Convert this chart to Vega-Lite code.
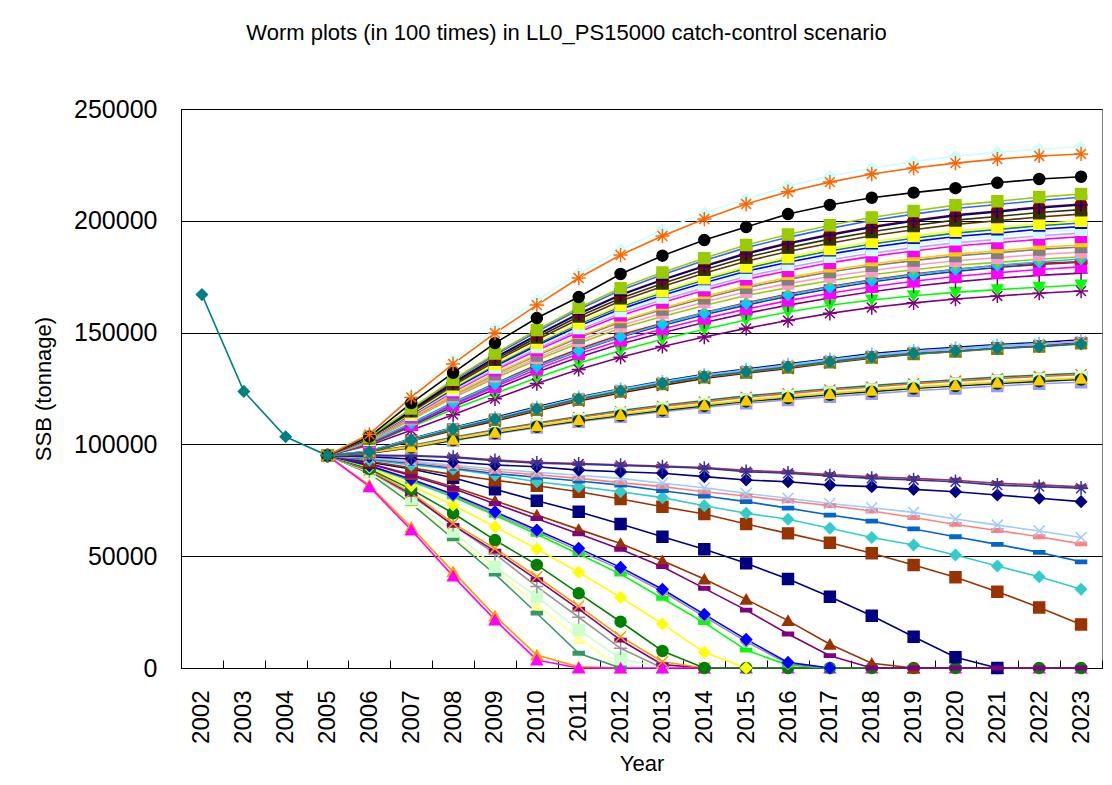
{
"$schema":"https://vega.github.io/schema/vega-lite/v6.json",
"width":921,"height":559,
"autosize":{"type":"none"},
"padding":{"left":181,"top":109,"right":10,"bottom":117},
"background":"white",
"title":{"text":"Worm plots (in 100 times) in LL0_PS15000 catch-control scenario","fontSize":22,"font":"Liberation Sans","fontWeight":"normal","color":"black","offset":52,"dx":-75},
"config":{"view":{"stroke":"#808080","strokeWidth":1}},
"data":{"values":[
{"s":"s02","t":2005,"v":95000},{"s":"s02","t":2006,"v":81800},{"s":"s02","t":2007,"v":62900},{"s":"s02","t":2008,"v":43100},{"s":"s02","t":2009,"v":23300},{"s":"s02","t":2010,"v":5800},{"s":"s02","t":2011,"v":500},{"s":"s02","t":2012,"v":0},
{"s":"s03","t":2005,"v":95000},{"s":"s03","t":2006,"v":87300},{"s":"s03","t":2007,"v":74000},{"s":"s03","t":2008,"v":58700},{"s":"s03","t":2009,"v":43800},{"s":"s03","t":2010,"v":28200},{"s":"s03","t":2011,"v":13300},{"s":"s03","t":2012,"v":0},
{"s":"s04","t":2005,"v":95000},{"s":"s04","t":2006,"v":87000},{"s":"s04","t":2007,"v":73500},{"s":"s04","t":2008,"v":57800},{"s":"s04","t":2009,"v":42000},{"s":"s04","t":2010,"v":24500},{"s":"s04","t":2011,"v":6600},{"s":"s04","t":2012,"v":0},
{"s":"s05","t":2005,"v":95000},{"s":"s05","t":2006,"v":87500},{"s":"s05","t":2007,"v":75500},{"s":"s05","t":2008,"v":61000},{"s":"s05","t":2009,"v":45300},{"s":"s05","t":2010,"v":31900},{"s":"s05","t":2011,"v":17000},{"s":"s05","t":2012,"v":4300},{"s":"s05","t":2013,"v":0},
{"s":"s06","t":2005,"v":95000},{"s":"s06","t":2006,"v":88000},{"s":"s06","t":2007,"v":77000},{"s":"s06","t":2008,"v":64000},{"s":"s06","t":2009,"v":51000},{"s":"s06","t":2010,"v":36400},{"s":"s06","t":2011,"v":22700},{"s":"s06","t":2012,"v":8800},{"s":"s06","t":2013,"v":0},
{"s":"s07","t":2005,"v":95000},{"s":"s07","t":2006,"v":88300},{"s":"s07","t":2007,"v":77800},{"s":"s07","t":2008,"v":63800},{"s":"s07","t":2009,"v":52300},{"s":"s07","t":2010,"v":39500},{"s":"s07","t":2011,"v":26300},{"s":"s07","t":2012,"v":12500},{"s":"s07","t":2013,"v":1500},{"s":"s07","t":2014,"v":0},
{"s":"s08","t":2005,"v":95000},{"s":"s08","t":2006,"v":88500},{"s":"s08","t":2007,"v":78500},{"s":"s08","t":2008,"v":64700},{"s":"s08","t":2009,"v":53500},{"s":"s08","t":2010,"v":40800},{"s":"s08","t":2011,"v":27700},{"s":"s08","t":2012,"v":14000},{"s":"s08","t":2013,"v":2800},{"s":"s08","t":2014,"v":0},
{"s":"s085","t":2005,"v":95000},{"s":"s085","t":2006,"v":81100},{"s":"s085","t":2007,"v":61700},{"s":"s085","t":2008,"v":41100},{"s":"s085","t":2009,"v":21500},{"s":"s085","t":2010,"v":3600},{"s":"s085","t":2011,"v":0},{"s":"s085","t":2012,"v":0},{"s":"s085","t":2013,"v":0},{"s":"s085","t":2014,"v":0},{"s":"s085","t":2015,"v":0},{"s":"s085","t":2016,"v":0},{"s":"s085","t":2017,"v":0},{"s":"s085","t":2018,"v":0},{"s":"s085","t":2019,"v":0},{"s":"s085","t":2020,"v":0},{"s":"s085","t":2021,"v":0},{"s":"s085","t":2022,"v":0},{"s":"s085","t":2023,"v":0},
{"s":"s09","t":2005,"v":95000},{"s":"s09","t":2006,"v":89000},{"s":"s09","t":2007,"v":79900},{"s":"s09","t":2008,"v":69200},{"s":"s09","t":2009,"v":57200},{"s":"s09","t":2010,"v":46100},{"s":"s09","t":2011,"v":33400},{"s":"s09","t":2012,"v":20700},{"s":"s09","t":2013,"v":7600},{"s":"s09","t":2014,"v":0},{"s":"s09","t":2015,"v":0},{"s":"s09","t":2016,"v":0},{"s":"s09","t":2017,"v":0},{"s":"s09","t":2018,"v":0},{"s":"s09","t":2019,"v":0},{"s":"s09","t":2020,"v":0},{"s":"s09","t":2021,"v":0},{"s":"s09","t":2022,"v":0},{"s":"s09","t":2023,"v":0},
{"s":"s10","t":2005,"v":95000},{"s":"s10","t":2006,"v":89800},{"s":"s10","t":2007,"v":81500},{"s":"s10","t":2008,"v":72900},{"s":"s10","t":2009,"v":63200},{"s":"s10","t":2010,"v":53200},{"s":"s10","t":2011,"v":42800},{"s":"s10","t":2012,"v":31600},{"s":"s10","t":2013,"v":19700},{"s":"s10","t":2014,"v":7000},{"s":"s10","t":2015,"v":0},
{"s":"s11","t":2005,"v":95000},{"s":"s11","t":2006,"v":90200},{"s":"s11","t":2007,"v":83500},{"s":"s11","t":2008,"v":76500},{"s":"s11","t":2009,"v":68300},{"s":"s11","t":2010,"v":59800},{"s":"s11","t":2011,"v":51000},{"s":"s11","t":2012,"v":42000},{"s":"s11","t":2013,"v":31200},{"s":"s11","t":2014,"v":20300},{"s":"s11","t":2015,"v":8000},{"s":"s11","t":2016,"v":1300},{"s":"s11","t":2017,"v":0},
{"s":"s12","t":2005,"v":95000},{"s":"s12","t":2006,"v":90300},{"s":"s12","t":2007,"v":84000},{"s":"s12","t":2008,"v":77000},{"s":"s12","t":2009,"v":69000},{"s":"s12","t":2010,"v":60800},{"s":"s12","t":2011,"v":52500},{"s":"s12","t":2012,"v":44000},{"s":"s12","t":2013,"v":34200},{"s":"s12","t":2014,"v":23000},{"s":"s12","t":2015,"v":11800},{"s":"s12","t":2016,"v":1800},{"s":"s12","t":2017,"v":0},
{"s":"s13","t":2005,"v":95000},{"s":"s13","t":2006,"v":90500},{"s":"s13","t":2007,"v":84400},{"s":"s13","t":2008,"v":77700},{"s":"s13","t":2009,"v":69900},{"s":"s13","t":2010,"v":61700},{"s":"s13","t":2011,"v":53500},{"s":"s13","t":2012,"v":45000},{"s":"s13","t":2013,"v":35200},{"s":"s13","t":2014,"v":24000},{"s":"s13","t":2015,"v":12800},{"s":"s13","t":2016,"v":2500},{"s":"s13","t":2017,"v":0},
{"s":"s14","t":2005,"v":95000},{"s":"s14","t":2006,"v":91500},{"s":"s14","t":2007,"v":86500},{"s":"s14","t":2008,"v":81100},{"s":"s14","t":2009,"v":74800},{"s":"s14","t":2010,"v":68400},{"s":"s14","t":2011,"v":62000},{"s":"s14","t":2012,"v":55700},{"s":"s14","t":2013,"v":48000},{"s":"s14","t":2014,"v":39800},{"s":"s14","t":2015,"v":30700},{"s":"s14","t":2016,"v":21200},{"s":"s14","t":2017,"v":10600},{"s":"s14","t":2018,"v":2100},{"s":"s14","t":2019,"v":0},
{"s":"s15","t":2005,"v":95000},{"s":"s15","t":2006,"v":92000},{"s":"s15","t":2007,"v":89000},{"s":"s15","t":2008,"v":85100},{"s":"s15","t":2009,"v":79900},{"s":"s15","t":2010,"v":74800},{"s":"s15","t":2011,"v":69900},{"s":"s15","t":2012,"v":64400},{"s":"s15","t":2013,"v":58700},{"s":"s15","t":2014,"v":53100},{"s":"s15","t":2015,"v":46800},{"s":"s15","t":2016,"v":39800},{"s":"s15","t":2017,"v":31900},{"s":"s15","t":2018,"v":23400},{"s":"s15","t":2019,"v":14000},{"s":"s15","t":2020,"v":4800},{"s":"s15","t":2021,"v":0},
{"s":"s16","t":2005,"v":95000},{"s":"s16","t":2006,"v":91300},{"s":"s16","t":2007,"v":86000},{"s":"s16","t":2008,"v":80300},{"s":"s16","t":2009,"v":73500},{"s":"s16","t":2010,"v":66800},{"s":"s16","t":2011,"v":60000},{"s":"s16","t":2012,"v":53100},{"s":"s16","t":2013,"v":45300},{"s":"s16","t":2014,"v":35600},{"s":"s16","t":2015,"v":25900},{"s":"s16","t":2016,"v":15200},{"s":"s16","t":2017,"v":5500},{"s":"s16","t":2018,"v":0},{"s":"s16","t":2019,"v":0},{"s":"s16","t":2020,"v":0},{"s":"s16","t":2021,"v":0},{"s":"s16","t":2022,"v":0},{"s":"s16","t":2023,"v":0},
{"s":"s17","t":2005,"v":95000},{"s":"s17","t":2006,"v":92500},{"s":"s17","t":2007,"v":89500},{"s":"s17","t":2008,"v":86500},{"s":"s17","t":2009,"v":84000},{"s":"s17","t":2010,"v":81500},{"s":"s17","t":2011,"v":78800},{"s":"s17","t":2012,"v":75600},{"s":"s17","t":2013,"v":72100},{"s":"s17","t":2014,"v":68900},{"s":"s17","t":2015,"v":64400},{"s":"s17","t":2016,"v":60200},{"s":"s17","t":2017,"v":56000},{"s":"s17","t":2018,"v":51300},{"s":"s17","t":2019,"v":46100},{"s":"s17","t":2020,"v":40600},{"s":"s17","t":2021,"v":34100},{"s":"s17","t":2022,"v":27100},{"s":"s17","t":2023,"v":19500},
{"s":"s18","t":2005,"v":95000},{"s":"s18","t":2006,"v":93000},{"s":"s18","t":2007,"v":90800},{"s":"s18","t":2008,"v":89000},{"s":"s18","t":2009,"v":86300},{"s":"s18","t":2010,"v":83300},{"s":"s18","t":2011,"v":81100},{"s":"s18","t":2012,"v":78800},{"s":"s18","t":2013,"v":76200},{"s":"s18","t":2014,"v":72600},{"s":"s18","t":2015,"v":69200},{"s":"s18","t":2016,"v":66500},{"s":"s18","t":2017,"v":62500},{"s":"s18","t":2018,"v":58400},{"s":"s18","t":2019,"v":55000},{"s":"s18","t":2020,"v":50500},{"s":"s18","t":2021,"v":45600},{"s":"s18","t":2022,"v":40800},{"s":"s18","t":2023,"v":35200},
{"s":"s19","t":2005,"v":95000},{"s":"s19","t":2006,"v":93500},{"s":"s19","t":2007,"v":91500},{"s":"s19","t":2008,"v":89300},{"s":"s19","t":2009,"v":87000},{"s":"s19","t":2010,"v":85300},{"s":"s19","t":2011,"v":83600},{"s":"s19","t":2012,"v":81800},{"s":"s19","t":2013,"v":79300},{"s":"s19","t":2014,"v":76900},{"s":"s19","t":2015,"v":74400},{"s":"s19","t":2016,"v":71500},{"s":"s19","t":2017,"v":68400},{"s":"s19","t":2018,"v":65700},{"s":"s19","t":2019,"v":62200},{"s":"s19","t":2020,"v":58700},{"s":"s19","t":2021,"v":55300},{"s":"s19","t":2022,"v":51700},{"s":"s19","t":2023,"v":47500},
{"s":"s20","t":2005,"v":95000},{"s":"s20","t":2006,"v":93800},{"s":"s20","t":2007,"v":92000},{"s":"s20","t":2008,"v":90000},{"s":"s20","t":2009,"v":88000},{"s":"s20","t":2010,"v":86400},{"s":"s20","t":2011,"v":84800},{"s":"s20","t":2012,"v":82900},{"s":"s20","t":2013,"v":81100},{"s":"s20","t":2014,"v":78800},{"s":"s20","t":2015,"v":76900},{"s":"s20","t":2016,"v":74700},{"s":"s20","t":2017,"v":72600},{"s":"s20","t":2018,"v":70200},{"s":"s20","t":2019,"v":67300},{"s":"s20","t":2020,"v":64200},{"s":"s20","t":2021,"v":61500},{"s":"s20","t":2022,"v":58700},{"s":"s20","t":2023,"v":55500},
{"s":"s21","t":2005,"v":95000},{"s":"s21","t":2006,"v":94000},{"s":"s21","t":2007,"v":92500},{"s":"s21","t":2008,"v":90700},{"s":"s21","t":2009,"v":89000},{"s":"s21","t":2010,"v":87500},{"s":"s21","t":2011,"v":86200},{"s":"s21","t":2012,"v":84800},{"s":"s21","t":2013,"v":82600},{"s":"s21","t":2014,"v":80600},{"s":"s21","t":2015,"v":78100},{"s":"s21","t":2016,"v":75900},{"s":"s21","t":2017,"v":73600},{"s":"s21","t":2018,"v":71700},{"s":"s21","t":2019,"v":69600},{"s":"s21","t":2020,"v":66600},{"s":"s21","t":2021,"v":63900},{"s":"s21","t":2022,"v":61300},{"s":"s21","t":2023,"v":58400},
{"s":"s22","t":2005,"v":95000},{"s":"s22","t":2006,"v":95200},{"s":"s22","t":2007,"v":95000},{"s":"s22","t":2008,"v":94500},{"s":"s22","t":2009,"v":93100},{"s":"s22","t":2010,"v":92000},{"s":"s22","t":2011,"v":91400},{"s":"s22","t":2012,"v":90900},{"s":"s22","t":2013,"v":90300},{"s":"s22","t":2014,"v":89600},{"s":"s22","t":2015,"v":88400},{"s":"s22","t":2016,"v":87600},{"s":"s22","t":2017,"v":86500},{"s":"s22","t":2018,"v":85500},{"s":"s22","t":2019,"v":84800},{"s":"s22","t":2020,"v":84000},{"s":"s22","t":2021,"v":82600},{"s":"s22","t":2022,"v":81900},{"s":"s22","t":2023,"v":81000},
{"s":"s23","t":2005,"v":95000},{"s":"s23","t":2006,"v":94500},{"s":"s23","t":2007,"v":93500},{"s":"s23","t":2008,"v":92200},{"s":"s23","t":2009,"v":90800},{"s":"s23","t":2010,"v":90000},{"s":"s23","t":2011,"v":88500},{"s":"s23","t":2012,"v":87800},{"s":"s23","t":2013,"v":87100},{"s":"s23","t":2014,"v":85600},{"s":"s23","t":2015,"v":84100},{"s":"s23","t":2016,"v":83300},{"s":"s23","t":2017,"v":81800},{"s":"s23","t":2018,"v":81100},{"s":"s23","t":2019,"v":79900},{"s":"s23","t":2020,"v":78800},{"s":"s23","t":2021,"v":77400},{"s":"s23","t":2022,"v":75900},{"s":"s23","t":2023,"v":74400},
{"s":"s24","t":2005,"v":95000},{"s":"s24","t":2006,"v":95000},{"s":"s24","t":2007,"v":94800},{"s":"s24","t":2008,"v":94200},{"s":"s24","t":2009,"v":92700},{"s":"s24","t":2010,"v":91600},{"s":"s24","t":2011,"v":91200},{"s":"s24","t":2012,"v":90600},{"s":"s24","t":2013,"v":90000},{"s":"s24","t":2014,"v":89300},{"s":"s24","t":2015,"v":87800},{"s":"s24","t":2016,"v":87100},{"s":"s24","t":2017,"v":85900},{"s":"s24","t":2018,"v":84800},{"s":"s24","t":2019,"v":84100},{"s":"s24","t":2020,"v":83300},{"s":"s24","t":2021,"v":81800},{"s":"s24","t":2022,"v":81100},{"s":"s24","t":2023,"v":80400},
{"s":"s25","t":2005,"v":95000},{"s":"s25","t":2006,"v":96600},{"s":"s25","t":2007,"v":99500},{"s":"s25","t":2008,"v":103200},{"s":"s25","t":2009,"v":106500},{"s":"s25","t":2010,"v":109600},{"s":"s25","t":2011,"v":112500},{"s":"s25","t":2012,"v":115100},{"s":"s25","t":2013,"v":117500},{"s":"s25","t":2014,"v":119600},{"s":"s25","t":2015,"v":121700},{"s":"s25","t":2016,"v":123300},{"s":"s25","t":2017,"v":124900},{"s":"s25","t":2018,"v":126300},{"s":"s25","t":2019,"v":127700},{"s":"s25","t":2020,"v":128900},{"s":"s25","t":2021,"v":130100},{"s":"s25","t":2022,"v":131000},{"s":"s25","t":2023,"v":131800},
{"s":"s26","t":2005,"v":95000},{"s":"s26","t":2006,"v":96500},{"s":"s26","t":2007,"v":99300},{"s":"s26","t":2008,"v":102900},{"s":"s26","t":2009,"v":106200},{"s":"s26","t":2010,"v":109200},{"s":"s26","t":2011,"v":112000},{"s":"s26","t":2012,"v":114600},{"s":"s26","t":2013,"v":117000},{"s":"s26","t":2014,"v":119000},{"s":"s26","t":2015,"v":121100},{"s":"s26","t":2016,"v":122700},{"s":"s26","t":2017,"v":124300},{"s":"s26","t":2018,"v":125700},{"s":"s26","t":2019,"v":127100},{"s":"s26","t":2020,"v":128300},{"s":"s26","t":2021,"v":129400},{"s":"s26","t":2022,"v":130400},{"s":"s26","t":2023,"v":131200},
{"s":"s27","t":2005,"v":95000},{"s":"s27","t":2006,"v":96200},{"s":"s27","t":2007,"v":98900},{"s":"s27","t":2008,"v":102500},{"s":"s27","t":2009,"v":105700},{"s":"s27","t":2010,"v":108600},{"s":"s27","t":2011,"v":111300},{"s":"s27","t":2012,"v":113800},{"s":"s27","t":2013,"v":116100},{"s":"s27","t":2014,"v":118100},{"s":"s27","t":2015,"v":120100},{"s":"s27","t":2016,"v":121700},{"s":"s27","t":2017,"v":123200},{"s":"s27","t":2018,"v":124600},{"s":"s27","t":2019,"v":126000},{"s":"s27","t":2020,"v":127100},{"s":"s27","t":2021,"v":128200},{"s":"s27","t":2022,"v":129200},{"s":"s27","t":2023,"v":130000},
{"s":"s28","t":2005,"v":95000},{"s":"s28","t":2006,"v":96000},{"s":"s28","t":2007,"v":98400},{"s":"s28","t":2008,"v":101700},{"s":"s28","t":2009,"v":104700},{"s":"s28","t":2010,"v":107500},{"s":"s28","t":2011,"v":110100},{"s":"s28","t":2012,"v":112400},{"s":"s28","t":2013,"v":114600},{"s":"s28","t":2014,"v":116500},{"s":"s28","t":2015,"v":118400},{"s":"s28","t":2016,"v":119900},{"s":"s28","t":2017,"v":121300},{"s":"s28","t":2018,"v":122600},{"s":"s28","t":2019,"v":124000},{"s":"s28","t":2020,"v":125000},{"s":"s28","t":2021,"v":126100},{"s":"s28","t":2022,"v":127100},{"s":"s28","t":2023,"v":127800},
{"s":"s29","t":2005,"v":95000},{"s":"s29","t":2006,"v":96100},{"s":"s29","t":2007,"v":98600},{"s":"s29","t":2008,"v":101900},{"s":"s29","t":2009,"v":105000},{"s":"s29","t":2010,"v":107900},{"s":"s29","t":2011,"v":110500},{"s":"s29","t":2012,"v":112900},{"s":"s29","t":2013,"v":115200},{"s":"s29","t":2014,"v":117200},{"s":"s29","t":2015,"v":119200},{"s":"s29","t":2016,"v":120700},{"s":"s29","t":2017,"v":122200},{"s":"s29","t":2018,"v":123600},{"s":"s29","t":2019,"v":125000},{"s":"s29","t":2020,"v":126100},{"s":"s29","t":2021,"v":127200},{"s":"s29","t":2022,"v":128200},{"s":"s29","t":2023,"v":129000},
{"s":"s30","t":2005,"v":95000},{"s":"s30","t":2006,"v":96300},{"s":"s30","t":2007,"v":98900},{"s":"s30","t":2008,"v":102300},{"s":"s30","t":2009,"v":105400},{"s":"s30","t":2010,"v":108300},{"s":"s30","t":2011,"v":111000},{"s":"s30","t":2012,"v":113400},{"s":"s30","t":2013,"v":115700},{"s":"s30","t":2014,"v":117700},{"s":"s30","t":2015,"v":119700},{"s":"s30","t":2016,"v":121300},{"s":"s30","t":2017,"v":122800},{"s":"s30","t":2018,"v":124200},{"s":"s30","t":2019,"v":125600},{"s":"s30","t":2020,"v":126700},{"s":"s30","t":2021,"v":127800},{"s":"s30","t":2022,"v":128800},{"s":"s30","t":2023,"v":129600},
{"s":"s31","t":2005,"v":95000},{"s":"s31","t":2006,"v":97000},{"s":"s31","t":2007,"v":102500},{"s":"s31","t":2008,"v":107600},{"s":"s31","t":2009,"v":112100},{"s":"s31","t":2010,"v":116800},{"s":"s31","t":2011,"v":121200},{"s":"s31","t":2012,"v":124900},{"s":"s31","t":2013,"v":128300},{"s":"s31","t":2014,"v":131400},{"s":"s31","t":2015,"v":133700},{"s":"s31","t":2016,"v":136000},{"s":"s31","t":2017,"v":138300},{"s":"s31","t":2018,"v":140600},{"s":"s31","t":2019,"v":142200},{"s":"s31","t":2020,"v":143400},{"s":"s31","t":2021,"v":144700},{"s":"s31","t":2022,"v":145600},{"s":"s31","t":2023,"v":146800},
{"s":"s32","t":2005,"v":95000},{"s":"s32","t":2006,"v":96400},{"s":"s32","t":2007,"v":101500},{"s":"s32","t":2008,"v":106200},{"s":"s32","t":2009,"v":110400},{"s":"s32","t":2010,"v":114900},{"s":"s32","t":2011,"v":119400},{"s":"s32","t":2012,"v":123000},{"s":"s32","t":2013,"v":126400},{"s":"s32","t":2014,"v":129500},{"s":"s32","t":2015,"v":131800},{"s":"s32","t":2016,"v":134000},{"s":"s32","t":2017,"v":136400},{"s":"s32","t":2018,"v":138600},{"s":"s32","t":2019,"v":140300},{"s":"s32","t":2020,"v":141600},{"s":"s32","t":2021,"v":143000},{"s":"s32","t":2022,"v":144300},{"s":"s32","t":2023,"v":145500},
{"s":"s33","t":2005,"v":95000},{"s":"s33","t":2006,"v":96900},{"s":"s33","t":2007,"v":102300},{"s":"s33","t":2008,"v":107300},{"s":"s33","t":2009,"v":111700},{"s":"s33","t":2010,"v":116400},{"s":"s33","t":2011,"v":120900},{"s":"s33","t":2012,"v":124600},{"s":"s33","t":2013,"v":128000},{"s":"s33","t":2014,"v":131000},{"s":"s33","t":2015,"v":133300},{"s":"s33","t":2016,"v":135600},{"s":"s33","t":2017,"v":137900},{"s":"s33","t":2018,"v":140100},{"s":"s33","t":2019,"v":141700},{"s":"s33","t":2020,"v":142900},{"s":"s33","t":2021,"v":144200},{"s":"s33","t":2022,"v":145000},{"s":"s33","t":2023,"v":146000},
{"s":"s34","t":2005,"v":95000},{"s":"s34","t":2006,"v":96600},{"s":"s34","t":2007,"v":101800},{"s":"s34","t":2008,"v":106700},{"s":"s34","t":2009,"v":111000},{"s":"s34","t":2010,"v":115500},{"s":"s34","t":2011,"v":120000},{"s":"s34","t":2012,"v":123600},{"s":"s34","t":2013,"v":127000},{"s":"s34","t":2014,"v":130000},{"s":"s34","t":2015,"v":132200},{"s":"s34","t":2016,"v":134400},{"s":"s34","t":2017,"v":136700},{"s":"s34","t":2018,"v":138900},{"s":"s34","t":2019,"v":140400},{"s":"s34","t":2020,"v":141500},{"s":"s34","t":2021,"v":142800},{"s":"s34","t":2022,"v":143800},{"s":"s34","t":2023,"v":145200},
{"s":"s35","t":2005,"v":95000},{"s":"s35","t":2006,"v":96800},{"s":"s35","t":2007,"v":102200},{"s":"s35","t":2008,"v":107100},{"s":"s35","t":2009,"v":111500},{"s":"s35","t":2010,"v":116200},{"s":"s35","t":2011,"v":120600},{"s":"s35","t":2012,"v":124300},{"s":"s35","t":2013,"v":127700},{"s":"s35","t":2014,"v":130700},{"s":"s35","t":2015,"v":133000},{"s":"s35","t":2016,"v":135300},{"s":"s35","t":2017,"v":137600},{"s":"s35","t":2018,"v":139800},{"s":"s35","t":2019,"v":141400},{"s":"s35","t":2020,"v":142600},{"s":"s35","t":2021,"v":143800},{"s":"s35","t":2022,"v":144600},{"s":"s35","t":2023,"v":146300},
{"s":"s36","t":2005,"v":95000},{"s":"s36","t":2006,"v":105000},{"s":"s36","t":2007,"v":122000},{"s":"s36","t":2008,"v":137500},{"s":"s36","t":2009,"v":151500},{"s":"s36","t":2010,"v":164500},{"s":"s36","t":2011,"v":176500},{"s":"s36","t":2012,"v":187000},{"s":"s36","t":2013,"v":196000},{"s":"s36","t":2014,"v":203500},{"s":"s36","t":2015,"v":209700},{"s":"s36","t":2016,"v":215500},{"s":"s36","t":2017,"v":220000},{"s":"s36","t":2018,"v":223500},{"s":"s36","t":2019,"v":226500},{"s":"s36","t":2020,"v":228800},{"s":"s36","t":2021,"v":230700},{"s":"s36","t":2022,"v":232000},{"s":"s36","t":2023,"v":233000},
{"s":"s37","t":2005,"v":95000},{"s":"s37","t":2006,"v":99600},{"s":"s37","t":2007,"v":106300},{"s":"s37","t":2008,"v":113300},{"s":"s37","t":2009,"v":120400},{"s":"s37","t":2010,"v":127200},{"s":"s37","t":2011,"v":133500},{"s":"s37","t":2012,"v":139000},{"s":"s37","t":2013,"v":143800},{"s":"s37","t":2014,"v":148000},{"s":"s37","t":2015,"v":151900},{"s":"s37","t":2016,"v":155400},{"s":"s37","t":2017,"v":158600},{"s":"s37","t":2018,"v":161200},{"s":"s37","t":2019,"v":163300},{"s":"s37","t":2020,"v":165000},{"s":"s37","t":2021,"v":166400},{"s":"s37","t":2022,"v":167600},{"s":"s37","t":2023,"v":168600},
{"s":"s38","t":2005,"v":95000},{"s":"s38","t":2006,"v":100000},{"s":"s38","t":2007,"v":107800},{"s":"s38","t":2008,"v":115700},{"s":"s38","t":2009,"v":122800},{"s":"s38","t":2010,"v":129800},{"s":"s38","t":2011,"v":136300},{"s":"s38","t":2012,"v":142000},{"s":"s38","t":2013,"v":147000},{"s":"s38","t":2014,"v":151500},{"s":"s38","t":2015,"v":155600},{"s":"s38","t":2016,"v":159200},{"s":"s38","t":2017,"v":162200},{"s":"s38","t":2018,"v":164600},{"s":"s38","t":2019,"v":166500},{"s":"s38","t":2020,"v":168000},{"s":"s38","t":2021,"v":169200},{"s":"s38","t":2022,"v":170300},{"s":"s38","t":2023,"v":171300},
{"s":"s39","t":2005,"v":95000},{"s":"s39","t":2006,"v":100100},{"s":"s39","t":2007,"v":108300},{"s":"s39","t":2008,"v":116800},{"s":"s39","t":2009,"v":124700},{"s":"s39","t":2010,"v":132300},{"s":"s39","t":2011,"v":139000},{"s":"s39","t":2012,"v":144900},{"s":"s39","t":2013,"v":149900},{"s":"s39","t":2014,"v":154500},{"s":"s39","t":2015,"v":158600},{"s":"s39","t":2016,"v":162300},{"s":"s39","t":2017,"v":165500},{"s":"s39","t":2018,"v":168300},{"s":"s39","t":2019,"v":170700},{"s":"s39","t":2020,"v":172700},{"s":"s39","t":2021,"v":174300},{"s":"s39","t":2022,"v":175600},{"s":"s39","t":2023,"v":176600},
{"s":"s40","t":2005,"v":95000},{"s":"s40","t":2006,"v":100200},{"s":"s40","t":2007,"v":108800},{"s":"s40","t":2008,"v":117600},{"s":"s40","t":2009,"v":125800},{"s":"s40","t":2010,"v":133600},{"s":"s40","t":2011,"v":140500},{"s":"s40","t":2012,"v":146500},{"s":"s40","t":2013,"v":151600},{"s":"s40","t":2014,"v":156300},{"s":"s40","t":2015,"v":160500},{"s":"s40","t":2016,"v":164300},{"s":"s40","t":2017,"v":167600},{"s":"s40","t":2018,"v":170500},{"s":"s40","t":2019,"v":173000},{"s":"s40","t":2020,"v":175100},{"s":"s40","t":2021,"v":176800},{"s":"s40","t":2022,"v":178200},{"s":"s40","t":2023,"v":179400},
{"s":"s41","t":2005,"v":95000},{"s":"s41","t":2006,"v":100400},{"s":"s41","t":2007,"v":109200},{"s":"s41","t":2008,"v":118300},{"s":"s41","t":2009,"v":126700},{"s":"s41","t":2010,"v":134700},{"s":"s41","t":2011,"v":141800},{"s":"s41","t":2012,"v":148000},{"s":"s41","t":2013,"v":153200},{"s":"s41","t":2014,"v":158000},{"s":"s41","t":2015,"v":162300},{"s":"s41","t":2016,"v":166200},{"s":"s41","t":2017,"v":169600},{"s":"s41","t":2018,"v":172600},{"s":"s41","t":2019,"v":175200},{"s":"s41","t":2020,"v":177400},{"s":"s41","t":2021,"v":179100},{"s":"s41","t":2022,"v":180500},{"s":"s41","t":2023,"v":181500},
{"s":"s42","t":2005,"v":95000},{"s":"s42","t":2006,"v":100600},{"s":"s42","t":2007,"v":109500},{"s":"s42","t":2008,"v":118800},{"s":"s42","t":2009,"v":127300},{"s":"s42","t":2010,"v":135500},{"s":"s42","t":2011,"v":142700},{"s":"s42","t":2012,"v":149000},{"s":"s42","t":2013,"v":154200},{"s":"s42","t":2014,"v":159000},{"s":"s42","t":2015,"v":163300},{"s":"s42","t":2016,"v":167200},{"s":"s42","t":2017,"v":170600},{"s":"s42","t":2018,"v":173600},{"s":"s42","t":2019,"v":176200},{"s":"s42","t":2020,"v":178300},{"s":"s42","t":2021,"v":180000},{"s":"s42","t":2022,"v":181000},{"s":"s42","t":2023,"v":181700},
{"s":"s43","t":2005,"v":95000},{"s":"s43","t":2006,"v":100800},{"s":"s43","t":2007,"v":109500},{"s":"s43","t":2008,"v":118500},{"s":"s43","t":2009,"v":127000},{"s":"s43","t":2010,"v":134900},{"s":"s43","t":2011,"v":142000},{"s":"s43","t":2012,"v":148300},{"s":"s43","t":2013,"v":153800},{"s":"s43","t":2014,"v":158700},{"s":"s43","t":2015,"v":163000},{"s":"s43","t":2016,"v":166900},{"s":"s43","t":2017,"v":170300},{"s":"s43","t":2018,"v":173300},{"s":"s43","t":2019,"v":175900},{"s":"s43","t":2020,"v":178200},{"s":"s43","t":2021,"v":180100},{"s":"s43","t":2022,"v":181600},{"s":"s43","t":2023,"v":182900},
{"s":"s44","t":2005,"v":95000},{"s":"s44","t":2006,"v":101200},{"s":"s44","t":2007,"v":111000},{"s":"s44","t":2008,"v":120800},{"s":"s44","t":2009,"v":129700},{"s":"s44","t":2010,"v":137700},{"s":"s44","t":2011,"v":145200},{"s":"s44","t":2012,"v":151900},{"s":"s44","t":2013,"v":157200},{"s":"s44","t":2014,"v":162100},{"s":"s44","t":2015,"v":166600},{"s":"s44","t":2016,"v":170100},{"s":"s44","t":2017,"v":173200},{"s":"s44","t":2018,"v":175900},{"s":"s44","t":2019,"v":178100},{"s":"s44","t":2020,"v":180100},{"s":"s44","t":2021,"v":181400},{"s":"s44","t":2022,"v":182800},{"s":"s44","t":2023,"v":183900},
{"s":"s45","t":2005,"v":95000},{"s":"s45","t":2006,"v":101400},{"s":"s45","t":2007,"v":111400},{"s":"s45","t":2008,"v":121400},{"s":"s45","t":2009,"v":130500},{"s":"s45","t":2010,"v":138700},{"s":"s45","t":2011,"v":146400},{"s":"s45","t":2012,"v":153200},{"s":"s45","t":2013,"v":158700},{"s":"s45","t":2014,"v":163700},{"s":"s45","t":2015,"v":168300},{"s":"s45","t":2016,"v":171900},{"s":"s45","t":2017,"v":175100},{"s":"s45","t":2018,"v":177800},{"s":"s45","t":2019,"v":180100},{"s":"s45","t":2020,"v":182100},{"s":"s45","t":2021,"v":183500},{"s":"s45","t":2022,"v":184900},{"s":"s45","t":2023,"v":186000},
{"s":"s46","t":2005,"v":95000},{"s":"s46","t":2006,"v":101500},{"s":"s46","t":2007,"v":111800},{"s":"s46","t":2008,"v":122100},{"s":"s46","t":2009,"v":131400},{"s":"s46","t":2010,"v":139800},{"s":"s46","t":2011,"v":147700},{"s":"s46","t":2012,"v":154700},{"s":"s46","t":2013,"v":160300},{"s":"s46","t":2014,"v":165400},{"s":"s46","t":2015,"v":170100},{"s":"s46","t":2016,"v":173800},{"s":"s46","t":2017,"v":177100},{"s":"s46","t":2018,"v":179900},{"s":"s46","t":2019,"v":182200},{"s":"s46","t":2020,"v":184300},{"s":"s46","t":2021,"v":185700},{"s":"s46","t":2022,"v":187200},{"s":"s46","t":2023,"v":188300},
{"s":"s47","t":2005,"v":95000},{"s":"s47","t":2006,"v":101600},{"s":"s47","t":2007,"v":112000},{"s":"s47","t":2008,"v":122300},{"s":"s47","t":2009,"v":131700},{"s":"s47","t":2010,"v":140200},{"s":"s47","t":2011,"v":148200},{"s":"s47","t":2012,"v":155300},{"s":"s47","t":2013,"v":160900},{"s":"s47","t":2014,"v":166100},{"s":"s47","t":2015,"v":170800},{"s":"s47","t":2016,"v":174600},{"s":"s47","t":2017,"v":177900},{"s":"s47","t":2018,"v":180700},{"s":"s47","t":2019,"v":183100},{"s":"s47","t":2020,"v":185100},{"s":"s47","t":2021,"v":186600},{"s":"s47","t":2022,"v":188100},{"s":"s47","t":2023,"v":189200},
{"s":"s48","t":2005,"v":95000},{"s":"s48","t":2006,"v":101900},{"s":"s48","t":2007,"v":112600},{"s":"s48","t":2008,"v":123400},{"s":"s48","t":2009,"v":133200},{"s":"s48","t":2010,"v":142000},{"s":"s48","t":2011,"v":150300},{"s":"s48","t":2012,"v":157700},{"s":"s48","t":2013,"v":163500},{"s":"s48","t":2014,"v":168900},{"s":"s48","t":2015,"v":173800},{"s":"s48","t":2016,"v":177700},{"s":"s48","t":2017,"v":181200},{"s":"s48","t":2018,"v":184100},{"s":"s48","t":2019,"v":186500},{"s":"s48","t":2020,"v":188700},{"s":"s48","t":2021,"v":190200},{"s":"s48","t":2022,"v":191700},{"s":"s48","t":2023,"v":192900},
{"s":"s49","t":2005,"v":95000},{"s":"s49","t":2006,"v":102000},{"s":"s49","t":2007,"v":112900},{"s":"s49","t":2008,"v":123900},{"s":"s49","t":2009,"v":133800},{"s":"s49","t":2010,"v":142800},{"s":"s49","t":2011,"v":151200},{"s":"s49","t":2012,"v":158700},{"s":"s49","t":2013,"v":164700},{"s":"s49","t":2014,"v":170100},{"s":"s49","t":2015,"v":175100},{"s":"s49","t":2016,"v":179100},{"s":"s49","t":2017,"v":182600},{"s":"s49","t":2018,"v":185500},{"s":"s49","t":2019,"v":188000},{"s":"s49","t":2020,"v":190200},{"s":"s49","t":2021,"v":191700},{"s":"s49","t":2022,"v":193300},{"s":"s49","t":2023,"v":194500},
{"s":"s50","t":2005,"v":95000},{"s":"s50","t":2006,"v":102100},{"s":"s50","t":2007,"v":113200},{"s":"s50","t":2008,"v":124300},{"s":"s50","t":2009,"v":134400},{"s":"s50","t":2010,"v":143500},{"s":"s50","t":2011,"v":152100},{"s":"s50","t":2012,"v":159600},{"s":"s50","t":2013,"v":165700},{"s":"s50","t":2014,"v":171300},{"s":"s50","t":2015,"v":176300},{"s":"s50","t":2016,"v":180300},{"s":"s50","t":2017,"v":183900},{"s":"s50","t":2018,"v":186900},{"s":"s50","t":2019,"v":189400},{"s":"s50","t":2020,"v":191700},{"s":"s50","t":2021,"v":193200},{"s":"s50","t":2022,"v":194800},{"s":"s50","t":2023,"v":196000},
{"s":"s51","t":2005,"v":95000},{"s":"s51","t":2006,"v":102200},{"s":"s51","t":2007,"v":113400},{"s":"s51","t":2008,"v":124700},{"s":"s51","t":2009,"v":134900},{"s":"s51","t":2010,"v":144200},{"s":"s51","t":2011,"v":152900},{"s":"s51","t":2012,"v":160500},{"s":"s51","t":2013,"v":166700},{"s":"s51","t":2014,"v":172300},{"s":"s51","t":2015,"v":177400},{"s":"s51","t":2016,"v":181500},{"s":"s51","t":2017,"v":185100},{"s":"s51","t":2018,"v":188200},{"s":"s51","t":2019,"v":190700},{"s":"s51","t":2020,"v":193000},{"s":"s51","t":2021,"v":194500},{"s":"s51","t":2022,"v":196200},{"s":"s51","t":2023,"v":197400},
{"s":"s52","t":2005,"v":95000},{"s":"s52","t":2006,"v":102300},{"s":"s52","t":2007,"v":113700},{"s":"s52","t":2008,"v":125200},{"s":"s52","t":2009,"v":135600},{"s":"s52","t":2010,"v":144900},{"s":"s52","t":2011,"v":153800},{"s":"s52","t":2012,"v":161600},{"s":"s52","t":2013,"v":167800},{"s":"s52","t":2014,"v":173500},{"s":"s52","t":2015,"v":178700},{"s":"s52","t":2016,"v":182900},{"s":"s52","t":2017,"v":186500},{"s":"s52","t":2018,"v":189600},{"s":"s52","t":2019,"v":192200},{"s":"s52","t":2020,"v":194500},{"s":"s52","t":2021,"v":196100},{"s":"s52","t":2022,"v":197800},{"s":"s52","t":2023,"v":199000},
{"s":"s53","t":2005,"v":95000},{"s":"s53","t":2006,"v":102400},{"s":"s53","t":2007,"v":113900},{"s":"s53","t":2008,"v":125500},{"s":"s53","t":2009,"v":136000},{"s":"s53","t":2010,"v":145400},{"s":"s53","t":2011,"v":154300},{"s":"s53","t":2012,"v":162200},{"s":"s53","t":2013,"v":168500},{"s":"s53","t":2014,"v":174300},{"s":"s53","t":2015,"v":179500},{"s":"s53","t":2016,"v":183700},{"s":"s53","t":2017,"v":187400},{"s":"s53","t":2018,"v":190600},{"s":"s53","t":2019,"v":193200},{"s":"s53","t":2020,"v":195500},{"s":"s53","t":2021,"v":197100},{"s":"s53","t":2022,"v":198700},{"s":"s53","t":2023,"v":200000},
{"s":"s54","t":2005,"v":95000},{"s":"s54","t":2006,"v":102600},{"s":"s54","t":2007,"v":114400},{"s":"s54","t":2008,"v":126300},{"s":"s54","t":2009,"v":137100},{"s":"s54","t":2010,"v":146800},{"s":"s54","t":2011,"v":156000},{"s":"s54","t":2012,"v":164100},{"s":"s54","t":2013,"v":170600},{"s":"s54","t":2014,"v":176500},{"s":"s54","t":2015,"v":181900},{"s":"s54","t":2016,"v":186300},{"s":"s54","t":2017,"v":190000},{"s":"s54","t":2018,"v":193300},{"s":"s54","t":2019,"v":196000},{"s":"s54","t":2020,"v":198400},{"s":"s54","t":2021,"v":200000},{"s":"s54","t":2022,"v":201700},{"s":"s54","t":2023,"v":203000},
{"s":"s55","t":2005,"v":95000},{"s":"s55","t":2006,"v":103100},{"s":"s55","t":2007,"v":115800},{"s":"s55","t":2008,"v":128500},{"s":"s55","t":2009,"v":140000},{"s":"s55","t":2010,"v":150400},{"s":"s55","t":2011,"v":160300},{"s":"s55","t":2012,"v":168900},{"s":"s55","t":2013,"v":175900},{"s":"s55","t":2014,"v":182200},{"s":"s55","t":2015,"v":188000},{"s":"s55","t":2016,"v":192600},{"s":"s55","t":2017,"v":196600},{"s":"s55","t":2018,"v":200100},{"s":"s55","t":2019,"v":203000},{"s":"s55","t":2020,"v":205500},{"s":"s55","t":2021,"v":207300},{"s":"s55","t":2022,"v":209100},{"s":"s55","t":2023,"v":210500},
{"s":"s56","t":2005,"v":95000},{"s":"s56","t":2006,"v":102700},{"s":"s56","t":2007,"v":114800},{"s":"s56","t":2008,"v":126900},{"s":"s56","t":2009,"v":137900},{"s":"s56","t":2010,"v":147800},{"s":"s56","t":2011,"v":157200},{"s":"s56","t":2012,"v":165400},{"s":"s56","t":2013,"v":172000},{"s":"s56","t":2014,"v":178100},{"s":"s56","t":2015,"v":183600},{"s":"s56","t":2016,"v":188000},{"s":"s56","t":2017,"v":191800},{"s":"s56","t":2018,"v":195100},{"s":"s56","t":2019,"v":197900},{"s":"s56","t":2020,"v":200300},{"s":"s56","t":2021,"v":201900},{"s":"s56","t":2022,"v":203700},{"s":"s56","t":2023,"v":205000},
{"s":"s57","t":2005,"v":95000},{"s":"s57","t":2006,"v":102900},{"s":"s57","t":2007,"v":115300},{"s":"s57","t":2008,"v":127600},{"s":"s57","t":2009,"v":138900},{"s":"s57","t":2010,"v":149000},{"s":"s57","t":2011,"v":158600},{"s":"s57","t":2012,"v":167000},{"s":"s57","t":2013,"v":173800},{"s":"s57","t":2014,"v":179900},{"s":"s57","t":2015,"v":185600},{"s":"s57","t":2016,"v":190100},{"s":"s57","t":2017,"v":194000},{"s":"s57","t":2018,"v":197400},{"s":"s57","t":2019,"v":200200},{"s":"s57","t":2020,"v":202700},{"s":"s57","t":2021,"v":204400},{"s":"s57","t":2022,"v":206200},{"s":"s57","t":2023,"v":207500},
{"s":"s58","t":2005,"v":95000},{"s":"s58","t":2006,"v":102800},{"s":"s58","t":2007,"v":115200},{"s":"s58","t":2008,"v":127500},{"s":"s58","t":2009,"v":138700},{"s":"s58","t":2010,"v":148800},{"s":"s58","t":2011,"v":158300},{"s":"s58","t":2012,"v":166700},{"s":"s58","t":2013,"v":173500},{"s":"s58","t":2014,"v":179600},{"s":"s58","t":2015,"v":185200},{"s":"s58","t":2016,"v":189700},{"s":"s58","t":2017,"v":193600},{"s":"s58","t":2018,"v":197000},{"s":"s58","t":2019,"v":199800},{"s":"s58","t":2020,"v":202300},{"s":"s58","t":2021,"v":204000},{"s":"s58","t":2022,"v":205800},{"s":"s58","t":2023,"v":207100},
{"s":"s59","t":2005,"v":95000},{"s":"s59","t":2006,"v":103200},{"s":"s59","t":2007,"v":116100},{"s":"s59","t":2008,"v":128900},{"s":"s59","t":2009,"v":140600},{"s":"s59","t":2010,"v":151200},{"s":"s59","t":2011,"v":161100},{"s":"s59","t":2012,"v":169900},{"s":"s59","t":2013,"v":176900},{"s":"s59","t":2014,"v":183300},{"s":"s59","t":2015,"v":189200},{"s":"s59","t":2016,"v":193900},{"s":"s59","t":2017,"v":198000},{"s":"s59","t":2018,"v":201500},{"s":"s59","t":2019,"v":204400},{"s":"s59","t":2020,"v":207000},{"s":"s59","t":2021,"v":208700},{"s":"s59","t":2022,"v":210600},{"s":"s59","t":2023,"v":212000},
{"s":"s60","t":2005,"v":95000},{"s":"s60","t":2006,"v":103500},{"s":"s60","t":2007,"v":118500},{"s":"s60","t":2008,"v":132000},{"s":"s60","t":2009,"v":145300},{"s":"s60","t":2010,"v":156500},{"s":"s60","t":2011,"v":165900},{"s":"s60","t":2012,"v":176200},{"s":"s60","t":2013,"v":184400},{"s":"s60","t":2014,"v":191400},{"s":"s60","t":2015,"v":197200},{"s":"s60","t":2016,"v":203000},{"s":"s60","t":2017,"v":207100},{"s":"s60","t":2018,"v":210300},{"s":"s60","t":2019,"v":212600},{"s":"s60","t":2020,"v":214600},{"s":"s60","t":2021,"v":217000},{"s":"s60","t":2022,"v":218700},{"s":"s60","t":2023,"v":219700},
{"s":"s61","t":2005,"v":95000},{"s":"s61","t":2006,"v":104500},{"s":"s61","t":2007,"v":121000},{"s":"s61","t":2008,"v":136000},{"s":"s61","t":2009,"v":149800},{"s":"s61","t":2010,"v":162300},{"s":"s61","t":2011,"v":174400},{"s":"s61","t":2012,"v":184700},{"s":"s61","t":2013,"v":193200},{"s":"s61","t":2014,"v":200800},{"s":"s61","t":2015,"v":207500},{"s":"s61","t":2016,"v":213000},{"s":"s61","t":2017,"v":217300},{"s":"s61","t":2018,"v":220900},{"s":"s61","t":2019,"v":223600},{"s":"s61","t":2020,"v":225800},{"s":"s61","t":2021,"v":227600},{"s":"s61","t":2022,"v":229000},{"s":"s61","t":2023,"v":229900},
{"s":"s62","t":2002,"v":167000},{"s":"s62","t":2003,"v":123700},{"s":"s62","t":2004,"v":103400},{"s":"s62","t":2005,"v":95000},{"s":"s62","t":2006,"v":96700},{"s":"s62","t":2007,"v":102000},{"s":"s62","t":2008,"v":106900},{"s":"s62","t":2009,"v":111200},{"s":"s62","t":2010,"v":115800},{"s":"s62","t":2011,"v":120300},{"s":"s62","t":2012,"v":123900},{"s":"s62","t":2013,"v":127300},{"s":"s62","t":2014,"v":130300},{"s":"s62","t":2015,"v":132500},{"s":"s62","t":2016,"v":134700},{"s":"s62","t":2017,"v":137000},{"s":"s62","t":2018,"v":139200},{"s":"s62","t":2019,"v":140700},{"s":"s62","t":2020,"v":141800},{"s":"s62","t":2021,"v":143000},{"s":"s62","t":2022,"v":143700},{"s":"s62","t":2023,"v":144900}
]},
"encoding":{
"x":{"field":"t","type":"ordinal","scale":{"type":"band","paddingInner":0,"paddingOuter":0},
"axis":{"title":"Year","labelAngle":270,"labelFontSize":24,"labelFont":"Liberation Sans","labelColor":"black","tickBand":"extent","tickSize":-8,"tickColor":"black","domainColor":"black","labelPadding":30,"titleFontSize":22,"titleFont":"Liberation Sans","titleFontWeight":"normal","titleColor":"black","titlePadding":10,"grid":false}},
"y":{"field":"v","type":"quantitative","scale":{"domain":[0,250000],"nice":false},
"axis":{"title":"SSB (tonnage)","values":[0,50000,100000,150000,200000,250000],"format":"d","labelFontSize":25,"labelFont":"Liberation Sans","labelColor":"black","tickSize":-8,"tickColor":"black","domainColor":"black","labelPadding":32,"grid":true,"gridColor":"black","gridWidth":1,"titleFontSize":22,"titleFont":"Liberation Sans","titleFontWeight":"normal","titleColor":"black","titlePadding":18}},
"color":{"field":"s","type":"nominal","legend":null,"scale":{"range":["#FF9900","#FFFF99","#339966","#CCFFCC","#969696","#800080","#FF9900","#FF00FF","#008000","#FFFF00","#00FF00","#969696","#0000FF","#993300","#000080","#800080","#993300","#33CCCC","#0066CC","#FF8080","#99CCFF","#993366","#000080","#333399","#008080","#FF6600","#CCFFCC","#9999FF","#003300","#FFCC00","#000080","#800000","#00FFFF","#808000","#CC99FF","#CCFFFF","#800080","#00FF00","#800080","#FF00FF","#333399","#FF0000","#00CCFF","#99CC00","#FF99CC","#808080","#FFCC00","#FF00FF","#CC99FF","#CCFFFF","#0000FF","#008080","#FFFF00","#663300","#3366FF","#333300","#800000","#000080","#99CC00","#000000","#FF6600","#008080"]}}
},
"layer":[
{"mark":{"type":"line","strokeWidth":1.6}},
{"mark":{"type":"point","filled":true,"size":120,"strokeWidth":1.5,"opacity":1},
"encoding":{
"shape":{"field":"s","type":"nominal","legend":null,"scale":{"range":["triangle-up","triangle-up","M-1,-0.3L1,-0.3L1,0.3L-1,0.3Z","square","M-1.2,0L1.2,0M0,-1.2L0,1.2","M-1,-0.3L1,-0.3L1,0.3L-1,0.3Z","M-1,-1L1,1M-1,1L1,-1","triangle-up","circle","diamond","M-1,-0.3L1,-0.3L1,0.3L-1,0.3Z","diamond","diamond","triangle-up","square","M-1,-0.3L1,-0.3L1,0.3L-1,0.3Z","square","diamond","M-1,-0.3L1,-0.3L1,0.3L-1,0.3Z","M-1,-0.3L1,-0.3L1,0.3L-1,0.3Z","M-1,-1L1,1M-1,1L1,-1","M-1,-0.3L1,-0.3L1,0.3L-1,0.3Z","diamond","M-1.3,0L1.3,0M0,-1.3L0,1.3M-0.9,-0.9L0.9,0.9M-0.9,0.9L0.9,-0.9","M-1,-0.3L1,-0.3L1,0.3L-1,0.3Z","M-1,-1L1,1M-1,1L1,-1","square","square","circle","triangle-up","M-1,-0.3L1,-0.3L1,0.3L-1,0.3Z","M-1,-1L1,1M-1,1L1,-1","M-1.3,0L1.3,0M0,-1.3L0,1.3M-0.9,-0.9L0.9,0.9M-0.9,0.9L0.9,-0.9","square","M-1.3,0L1.3,0M0,-1.3L0,1.3M-0.9,-0.9L0.9,0.9M-0.9,0.9L0.9,-0.9","diamond","M-1.3,0L1.3,0M0,-1.3L0,1.3M-0.9,-0.9L0.9,0.9M-0.9,0.9L0.9,-0.9","triangle-down","M-1.2,0L1.2,0M0,-1.2L0,1.2","square","M-1,-0.3L1,-0.3L1,0.3L-1,0.3Z","M-1,-0.3L1,-0.3L1,0.3L-1,0.3Z","diamond","triangle-down","square","square","M-1,-0.3L1,-0.3L1,0.3L-1,0.3Z","square","M-1,-0.3L1,-0.3L1,0.3L-1,0.3Z","square","M-1,-0.3L1,-0.3L1,0.3L-1,0.3Z","M-1,-0.3L1,-0.3L1,0.3L-1,0.3Z","square","M-1,-0.3L1,-0.3L1,0.3L-1,0.3Z","M-1,-0.3L1,-0.3L1,0.3L-1,0.3Z","square","circle","M-1.2,0L1.2,0M0,-1.2L0,1.2","square","circle","M-1.3,0L1.3,0M0,-1.3L0,1.3M-0.9,-0.9L0.9,0.9M-0.9,0.9L0.9,-0.9","diamond"]}},
"stroke":{"field":"s","type":"nominal","legend":null,"scale":{"range":["#FF9900","#FFFF99","#339966","#CCFFCC","#969696","#800080","#FF9900","#FF00FF","#008000","#FFFF00","#00FF00","#969696","#0000FF","#993300","#000080","#800080","#993300","#33CCCC","#0066CC","#FF8080","#99CCFF","#993366","#000080","#333399","#008080","#FF6600","#CCFFCC","#9999FF","#003300","#FFCC00","#000080","#800000","#00FFFF","#808000","#CC99FF","#CCFFFF","#800080","#00FF00","#800080","#FF00FF","#333399","#FF0000","#00CCFF","#99CC00","#FF99CC","#808080","#FFCC00","#FF00FF","#CC99FF","#CCFFFF","#0000FF","#008080","#FFFF00","#663300","#3366FF","#333300","#800000","#000080","#99CC00","#000000","#FF6600","#008080"]}}
}}
]
}
